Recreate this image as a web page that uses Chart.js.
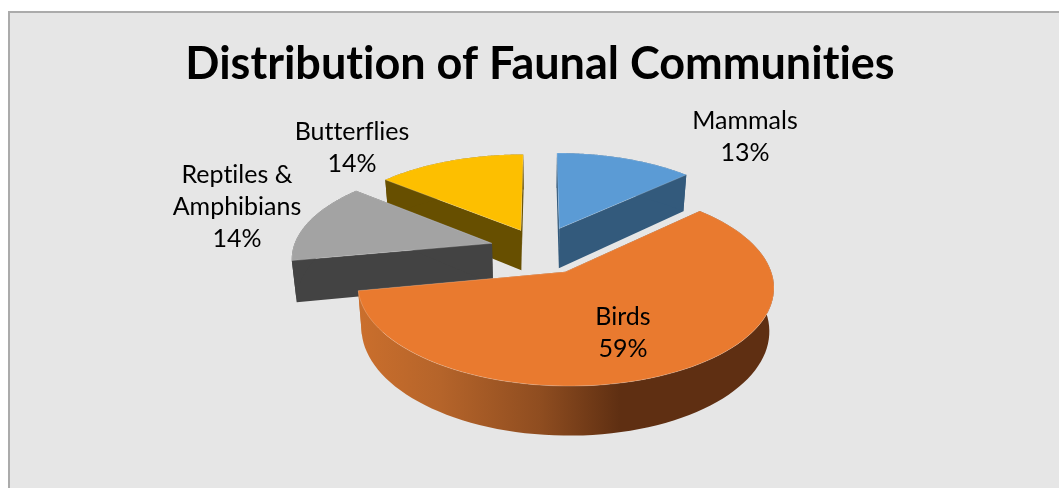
<!DOCTYPE html>
<html>
<head>
<meta charset="utf-8">
<title>Distribution of Faunal Communities</title>
<script src="https://cdn.jsdelivr.net/npm/chart.js@4"></script>
<style>
    html, body { margin: 0; background: #fff; overflow: hidden; width: 1059px; height: 488px; }
    #frame { position: absolute; left: 8px; top: 11px; width: 1100px; height: 520px; background: #e6e6e6; border: 2px solid #ababab; }
    canvas { position: absolute; left: 0; top: 0; }
</style>
</head>
<body>
<div id="frame"></div>
<canvas id="pie" width="1059" height="488"></canvas>
<script>
const chartTitle = 'Distribution of Faunal Communities';
const categories = ['Mammals', 'Birds', ['Reptiles &', 'Amphibians'], 'Butterflies'];
const shares = [13, 59, 14, 14];
const faceColors = ['#5b9bd5', '#e97a2f', '#a3a3a3', '#fdbf00'];
const wallColors = ['#335a7c', '#5f2f12', '#434343', '#674f00'];
const sliceOffsets = [50, 54, 50, 46];

// label centres (x, y of first line), same order as categories
const labelX = [745, 623, 237, 352];
const labelY = [121, 317, 175, 132];

// fake 3D view of the flat pie
const view = { tilt: 0.459, perspective: 0.139, depth: 41, taper: 0.98 };

function project(chartX, chartY, u, v, z, radius) {
    const s = 1 / (1 + view.perspective * v / radius);
    const t = z ? view.taper : 1;
    return {
        x: chartX + u * s * t,
        y: chartY - view.tilt * v * s + z * view.depth * s
    };
}

function tracePoints(ctx, points) {
    ctx.beginPath();
    points.forEach((p, i) => {
        if (i === 0) ctx.moveTo(p.x, p.y);
        else ctx.lineTo(p.x, p.y);
    });
    ctx.closePath();
}

const pie3d = {
    id: 'pie3d',
    beforeDraw(chart) {
        // the reference has no ti / fl ligatures
        chart.ctx.textRendering = 'optimizeSpeed';
    },
    beforeDatasetDraw(chart, args) {
        const ctx = chart.ctx;
        const arcs = args.meta.data;

        // back slices first
        const order = arcs.map((arc, i) => i).sort((a, b) => {
            const midA = (arcs[a].startAngle + arcs[a].endAngle) / 2;
            const midB = (arcs[b].startAngle + arcs[b].endAngle) / 2;
            return Math.sin(midA) - Math.sin(midB);
        });

        order.forEach(i => {
            const arc = arcs[i];
            const r = arc.outerRadius;
            const mid = (arc.startAngle + arc.endAngle) / 2;
            const offset = sliceOffsets[i];
            const tipU = Math.cos(mid) * offset;
            const tipV = -Math.sin(mid) * offset;
            const at = (u, v, z) => project(arc.x, arc.y, u, v, z, r);

            const rim = [];
            const rimLow = [];
            const steps = 90;
            for (let n = 0; n <= steps; n++) {
                const a = arc.startAngle + (arc.endAngle - arc.startAngle) * n / steps;
                const u = tipU + Math.cos(a) * r;
                const v = tipV - Math.sin(a) * r;
                rim.push(at(u, v, 0));
                rimLow.push(at(u, v, 1));
            }
            const tip = at(tipU, tipV, 0);
            const tipLow = at(tipU, tipV, 1);

            // walls
            let wallFill = wallColors[i];
            if (shares[i] > 50) {
                const grad = ctx.createLinearGradient(arc.x - r, 0, arc.x + r, 0);
                grad.addColorStop(0, '#cf712d');
                grad.addColorStop(0.25, '#b5642a');
                grad.addColorStop(0.5, '#8f4d20');
                grad.addColorStop(0.7, '#5f2f12');
                grad.addColorStop(1, '#5f2f12');
                wallFill = grad;
            }
            ctx.fillStyle = wallFill;
            tracePoints(ctx, [tip, rim[0], rimLow[0], tipLow]);
            ctx.fill();
            tracePoints(ctx, [tip, rim[steps], rimLow[steps], tipLow]);
            ctx.fill();
            tracePoints(ctx, rim.concat(rimLow.slice().reverse()));
            ctx.fill();

            // top face
            tracePoints(ctx, [tip].concat(rim));
            ctx.fillStyle = arc.options.backgroundColor;
            ctx.fill();
            ctx.strokeStyle = 'rgba(255,255,255,0.25)';
            ctx.lineWidth = 0.8;
            ctx.stroke();
        });
        return false;
    },
    afterDatasetsDraw(chart) {
        const ctx = chart.ctx;
        ctx.save();
        ctx.fillStyle = '#000';
        ctx.font = '25px Lato';
        ctx.textAlign = 'center';
        ctx.textBaseline = 'middle';
        categories.forEach((name, i) => {
            const lines = [].concat(name, shares[i] + '%');
            lines.forEach((line, n) => {
                ctx.fillText(line, labelX[i], labelY[i] + n * 32);
            });
        });
        ctx.restore();
    }
};

new Chart(document.getElementById('pie').getContext('2d'), {
    type: 'pie',
    data: {
        labels: categories,
        datasets: [{
            data: shares,
            backgroundColor: faceColors,
            borderWidth: 0
        }]
    },
    options: {
        responsive: false,
        animation: false,
        radius: 199,
        layout: { padding: { left: 21, right: 0, top: 0, bottom: 81 } },
        plugins: {
            legend: { display: false },
            tooltip: { enabled: false },
            title: {
                display: true,
                text: chartTitle,
                color: '#000',
                font: { family: 'Lato', size: 45, weight: 'bold' },
                padding: { top: 37, bottom: 0 }
            }
        }
    },
    plugins: [pie3d]
});
</script>
</body>
</html>
